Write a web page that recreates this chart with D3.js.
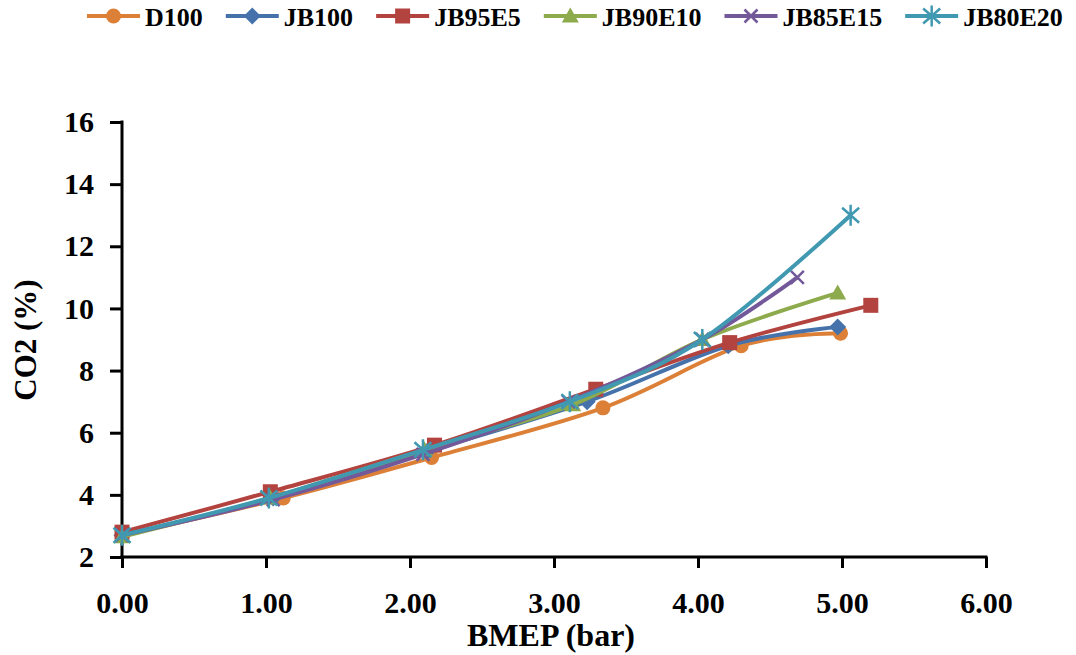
<!DOCTYPE html>
<html>
<head>
<meta charset="utf-8">
<script src="https://cdn.jsdelivr.net/npm/d3@7"></script>
<style>
  html, body { margin: 0; padding: 0; background: #ffffff; }
  svg { display: block; }
  text { font-family: "Liberation Serif", "Times New Roman", serif; font-weight: bold; fill: #000; }
</style>
</head>
<body>
<svg id="chart" width="1076" height="655"></svg>
<script>
// Fuel blends
const fuels = ["D100", "JB100", "JB95E5", "JB90E10", "JB85E15", "JB80E20"];

// BMEP (bar) for each blend
const bmepD100    = [0, 1.12, 2.15, 3.34, 4.30, 4.99];
const bmepJB100   = [0, 1.05, 2.12, 3.23, 4.21, 4.97];
const bmepJB95E5  = [0, 1.03, 2.17, 3.29, 4.22, 5.20];
const bmepJB90E10 = [0, 1.03, 2.10, 3.13, 4.03, 4.97];
const bmepJB85E15 = [0, 1.05, 2.09, 3.10, 4.03, 4.69];
const bmepJB80E20 = [0, 1.02, 2.09, 3.11, 4.03, 5.06];

// CO2 (%) for each blend
const co2D100    = [2.70, 3.90, 5.20, 6.80, 8.80, 9.20];
const co2JB100   = [2.70, 3.90, 5.40, 7.00, 8.80, 9.40];
const co2JB95E5  = [2.80, 4.10, 5.60, 7.40, 8.90, 10.10];
const co2JB90E10 = [2.65, 3.90, 5.45, 6.90, 9.00, 10.50];
const co2JB85E15 = [2.70, 3.85, 5.30, 7.00, 9.00, 11.00];
const co2JB80E20 = [2.70, 3.90, 5.45, 7.00, 9.00, 13.00];

// Axis ticks
const xTicks = [0, 1, 2, 3, 4, 5, 6];
const yTicks = [2, 4, 6, 8, 10, 12, 14, 16];

const bmep = [bmepD100, bmepJB100, bmepJB95E5, bmepJB90E10, bmepJB85E15, bmepJB80E20];
const co2  = [co2D100, co2JB100, co2JB95E5, co2JB90E10, co2JB85E15, co2JB80E20];

const colors  = ["#DD8037", "#4672AC", "#B2433F", "#8DAB4C", "#73589A", "#4099B1"];
const markers = ["circle", "diamond", "square", "triangle", "times", "asterisk"];

const series = fuels.map((name, i) => ({
  name, color: colors[i], marker: markers[i],
  points: bmep[i].map((b, j) => ({ x: b, y: co2[i][j] }))
}));

const svg = d3.select("#chart");
const margin = { left: 122, right: 90, top: 122, bottom: 98 };
const W = 1076, H = 655;

const x = d3.scaleLinear().domain([0, 6]).range([margin.left, W - margin.right]);
const y = d3.scaleLinear().domain([2, 16]).range([H - margin.bottom, margin.top]);

// Marker shapes drawn around the origin
function markerPath(type) {
  const p = d3.path();
  if (type === "circle") {
    p.arc(0, 0, 7.5, 0, 2 * Math.PI);
  } else if (type === "diamond") {
    p.moveTo(0, -8.5); p.lineTo(8.5, 0); p.lineTo(0, 8.5); p.lineTo(-8.5, 0); p.closePath();
  } else if (type === "square") {
    p.rect(-7.5, -7.5, 15, 15);
  } else if (type === "triangle") {
    p.moveTo(0, -8.5); p.lineTo(8.5, 6.5); p.lineTo(-8.5, 6.5); p.closePath();
  } else if (type === "times") {
    p.moveTo(-6.5, -6.5); p.lineTo(6.5, 6.5); p.moveTo(-6.5, 6.5); p.lineTo(6.5, -6.5);
  } else if (type === "asterisk") {
    p.moveTo(-8.5, -7.5); p.lineTo(8.5, 7.5); p.moveTo(-8.5, 7.5); p.lineTo(8.5, -7.5);
    p.moveTo(0, -10.5); p.lineTo(0, 10.5);
  }
  return p.toString();
}
const strokeOnly = t => t === "times" || t === "asterisk";

function drawMarker(sel, s) {
  sel.append("path")
    .attr("d", markerPath(s.marker))
    .attr("fill", strokeOnly(s.marker) ? "none" : s.color)
    .attr("stroke", s.color)
    .attr("stroke-width", strokeOnly(s.marker) ? 2.5 : 0);
}

// Axes
const axisColor = "#000";
const yAxis = svg.append("g")
  .attr("transform", `translate(${margin.left},0)`)
  .call(d3.axisLeft(y).tickValues(yTicks).tickFormat(d3.format("d")).tickSize(12).tickPadding(16));
const xAxis = svg.append("g")
  .attr("transform", `translate(0,${H - margin.bottom})`)
  .call(d3.axisBottom(x).tickValues(xTicks).tickFormat(d3.format(".2f")).tickSize(11).tickPadding(24));

[xAxis, yAxis].forEach(g => {
  g.select(".domain").remove();
  g.selectAll(".tick line").attr("stroke", axisColor).attr("stroke-width", 3);
  g.selectAll(".tick text")
    .style("font-family", '"Liberation Serif", "Times New Roman", serif')
    .style("font-weight", "bold")
    .style("font-size", "30px")
    .attr("fill", "#000");
});
// axis lines
svg.append("line")
  .attr("x1", x(0)).attr("x2", x(0)).attr("y1", y(16) - 1.5).attr("y2", y(2))
  .attr("stroke", axisColor).attr("stroke-width", 3);
svg.append("line")
  .attr("x1", x(0) - 1.5).attr("x2", x(6) + 1.5).attr("y1", y(2)).attr("y2", y(2))
  .attr("stroke", axisColor).attr("stroke-width", 3);

// Axis titles
svg.append("text")
  .attr("x", x(3) - 3).attr("y", 646)
  .attr("text-anchor", "middle")
  .style("font-size", "32px")
  .text("BMEP (bar)");
svg.append("text")
  .attr("transform", `translate(36,${y(9) + 0.5}) rotate(-90)`)
  .attr("text-anchor", "middle")
  .style("font-size", "31px")
  .text("CO2 (%)");

// Series lines (smoothed) and markers
const line = d3.line().x(d => x(d.x)).y(d => y(d.y)).curve(d3.curveCardinal.tension(0));
const plot = svg.append("g");
series.forEach(s => {
  const g = plot.append("g");
  g.append("path")
    .attr("d", line(s.points))
    .attr("fill", "none")
    .attr("stroke", s.color)
    .attr("stroke-width", 4)
    .attr("stroke-linejoin", "round");
  s.points.forEach(p => {
    const m = g.append("g").attr("transform", `translate(${x(p.x)},${y(p.y)})`);
    drawMarker(m, s);
  });
});

// Legend
const legend = svg.append("g");
let lx = 87;
const ly = 16;
series.forEach(s => {
  const item = legend.append("g");
  item.append("line")
    .attr("x1", lx).attr("x2", lx + 53).attr("y1", ly).attr("y2", ly)
    .attr("stroke", s.color).attr("stroke-width", 4);
  const m = item.append("g").attr("transform", `translate(${lx + 26.5},${ly})`);
  drawMarker(m, s);
  const t = item.append("text")
    .attr("x", lx + 58).attr("y", ly + 9.5)
    .style("font-size", "26px")
    .text(s.name);
  lx += 58 + t.node().getComputedTextLength() + 23;
});
</script>
</body>
</html>
